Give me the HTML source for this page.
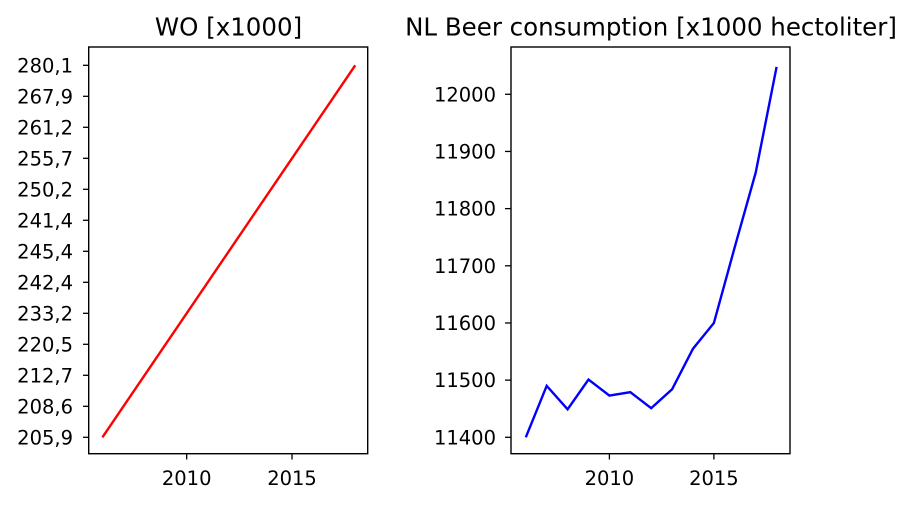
<!DOCTYPE html>
<html><head><meta charset="utf-8"><style>
body{margin:0;background:#fff;}
svg text{font-family:"DejaVu Sans","Liberation Sans",sans-serif;fill:#000;}
</style></head><body>
<svg id="c" width="916" height="505" xmlns="http://www.w3.org/2000/svg"></svg>
<script>
const years=[2006,2007,2008,2009,2010,2011,2012,2013,2014,2015,2016,2017,2018];
const woLabels=["205,9","208,6","212,7","220,5","233,2","242,4","245,4","241,4","250,2","255,7","261,2","267,9","280,1"];
const beer=[11400,11490,11449,11501,11473,11479,11451,11484,11555,11600,11733,11863,12048];
const beerTicks=[11400,11500,11600,11700,11800,11900,12000];
const xTicks=[2010,2015];
const svg=document.getElementById('c');
const NS='http://www.w3.org/2000/svg';
function mk(t,a,p){const e=document.createElementNS(NS,t);for(const k in a)e.setAttribute(k,a[k]);(p||svg).appendChild(e);return e;}
function xL(y){return 102.4+(y-2006)*21.07;}
function yL(i){return 437.3-i*31;}
function xR(y){return 525.8+(y-2006)*20.9;}
function yR(v){return 437.3-(v-11400)*0.5717;}
// left
let g=mk('g',{});


let t=mk('text',{x:228.5,y:35.5,'font-size':24.5,'text-anchor':'middle'},g);t.textContent='WO [x1000]';

woLabels.forEach((l,i)=>{const y=yL(i);mk('line',{x1:83,x2:88.7,y1:y,y2:y,stroke:'#000','stroke-width':1.3},g);
 const tx=mk('text',{x:73,y:y+7,'font-size':19.5,'text-anchor':'end'},g);tx.textContent=l;
 });
xTicks.forEach(v=>{const x=xL(v);mk('line',{x1:x,x2:x,y1:453.7,y2:459.5,stroke:'#000','stroke-width':1.3},g);
 const tx=mk('text',{x:x,y:485,'font-size':19.5,'text-anchor':'middle'},g);tx.textContent=v;
 });
let p=mk('polyline',{points:years.map((y,i)=>xL(y)+','+yL(i)).join(' '),fill:'none',stroke:'#f00','stroke-width':2.4},g);

mk('rect',{x:88.7,y:47,width:279,height:406.7,fill:'none',stroke:'#000','stroke-width':1.4},g);
// right
g=mk('g',{});


t=mk('text',{x:651,y:35.5,'font-size':24.5,'text-anchor':'middle'},g);t.textContent='NL Beer consumption [x1000 hectoliter]';

beerTicks.forEach(v=>{const y=yR(v);mk('line',{x1:505,x2:511,y1:y,y2:y,stroke:'#000','stroke-width':1.3},g);
 const tx=mk('text',{x:496,y:y+7,'font-size':19.5,'text-anchor':'end'},g);tx.textContent=v;
 });
xTicks.forEach(v=>{const x=xR(v);mk('line',{x1:x,x2:x,y1:453.7,y2:459.5,stroke:'#000','stroke-width':1.3},g);
 const tx=mk('text',{x:x,y:485,'font-size':19.5,'text-anchor':'middle'},g);tx.textContent=v;
 });
p=mk('polyline',{points:years.map((y,i)=>xR(y)+','+yR(beer[i])).join(' '),fill:'none',stroke:'#00f','stroke-width':2.4},g);

mk('rect',{x:511,y:47,width:279,height:406.7,fill:'none',stroke:'#000','stroke-width':1.4},g);
</script>
</body></html>
